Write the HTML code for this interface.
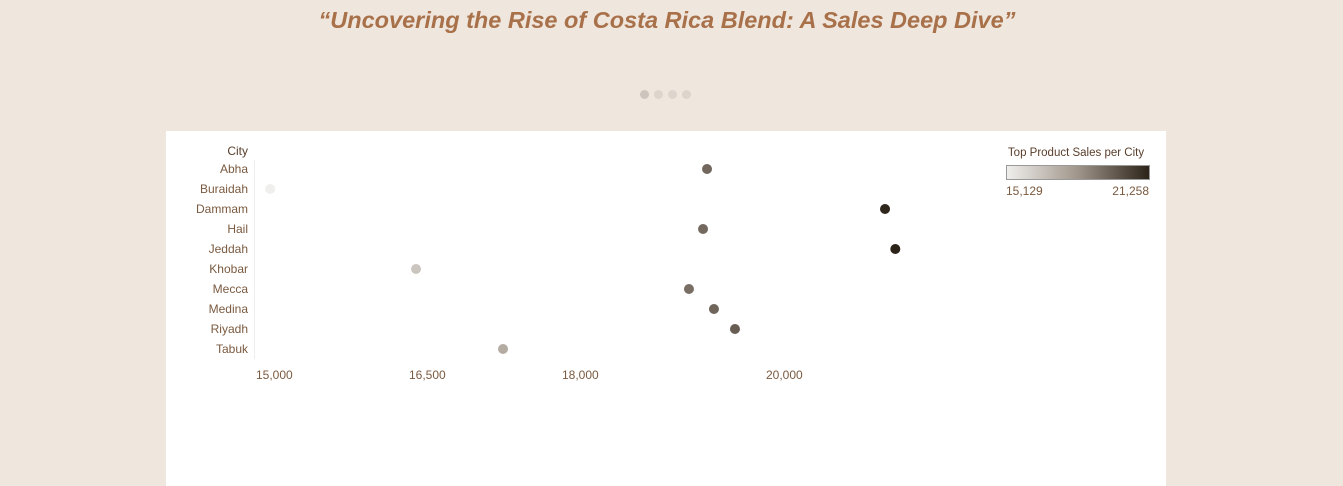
<!DOCTYPE html>
<html><head><meta charset="utf-8"><style>
body{margin:0;width:1343px;height:486px;background:#efe6de;font-family:"Liberation Sans",sans-serif;overflow:hidden;position:relative}
.title{position:absolute;left:0;width:1334px;top:7px;text-align:center;font-size:23.5px;font-style:italic;font-weight:bold;color:#a8714a}
.dot{position:absolute;top:90px;width:9px;height:9px;border-radius:50%}
.panel{position:absolute;left:166px;top:131px;width:1000px;height:355px;background:#fff}
svg text{font-family:"Liberation Sans",sans-serif}
</style></head><body>
<div class="title">“Uncovering the Rise of Costa Rica Blend: A Sales Deep Dive”</div>
<div class="dot" style="left:640px;background:#cdc5bd"></div>
<div class="dot" style="left:654px;background:#ddd5cd"></div>
<div class="dot" style="left:668px;background:#ddd5cd"></div>
<div class="dot" style="left:682px;background:#ddd5cd"></div>
<div class="panel"></div>
<svg id="chart" width="1343" height="486" style="position:absolute;left:0;top:0">
<defs><linearGradient id="g" x1="0" x2="1"><stop offset="0" stop-color="#f0efed"/><stop offset="0.5" stop-color="#a0958a"/><stop offset="1" stop-color="#2b2218"/></linearGradient></defs>
<text x="248" y="155" text-anchor="end" font-size="12" fill="#5a3e2b">City</text>
<line x1="254.5" y1="160" x2="254.5" y2="359" stroke="#eeeeee"/>
<text x="1076" y="156" text-anchor="middle" font-size="11.5" fill="#5a3e2b">Top Product Sales per City</text>
<rect x="1006.5" y="165.5" width="143" height="14" fill="url(#g)" stroke="#999"/>
<text x="1006" y="195" font-size="12" fill="#7a5a40">15,129</text>
<text x="1149" y="195" text-anchor="end" font-size="12" fill="#7a5a40">21,258</text>
<g id="rows"></g><g id="ticks"></g>
</svg>
<script>
const cities=["Abha","Buraidah","Dammam","Hail","Jeddah","Khobar","Mecca","Medina","Riyadh","Tabuk"];
const sales=[19412,15129,21157,19373,21258,16559,19235,19480,19686,17412];
const tickValues=[15000,16500,18000,20000];
const tickLabels=["15,000","16,500","18,000","20,000"];
const colorMin=15129,colorMax=21258;
const ns="http://www.w3.org/2000/svg";
function x(v){return 257+(v-15000)*0.102;}
function y(i){return 169+i*20;}
function col(v){const t=(v-colorMin)/(colorMax-colorMin);
 const a=[240,239,237],m=[160,149,138],b=[43,34,24];let c;
 if(t<0.5){const u=t/0.5;c=a.map((k,j)=>k+(m[j]-k)*u);}else{const u=(t-0.5)/0.5;c=m.map((k,j)=>k+(b[j]-k)*u);}
 return `rgb(${c.map(Math.round).join(',')})`;}
const rows=document.getElementById('rows'),ticks=document.getElementById('ticks');
cities.forEach((c,i)=>{
 const t=document.createElementNS(ns,'text');
 t.setAttribute('x',248);t.setAttribute('y',y(i)+4);t.setAttribute('text-anchor','end');t.setAttribute('font-size','12');t.setAttribute('fill','#7a5a40');
 t.textContent=c;
 
 
 rows.appendChild(t);
 const d=document.createElementNS(ns,'circle');
 d.setAttribute('cx',x(sales[i]));d.setAttribute('cy',y(i));d.setAttribute('r',5);d.setAttribute('fill',col(sales[i]));
 
 
 rows.appendChild(d);
});
tickValues.forEach((v,i)=>{
 const t=document.createElementNS(ns,'text');
 t.setAttribute('x',x(v)-1);t.setAttribute('y',379);t.setAttribute('font-size','12');t.setAttribute('fill','#7a5a40');
 t.textContent=tickLabels[i];
 
 
 ticks.appendChild(t);
});
</script>
</body></html>
